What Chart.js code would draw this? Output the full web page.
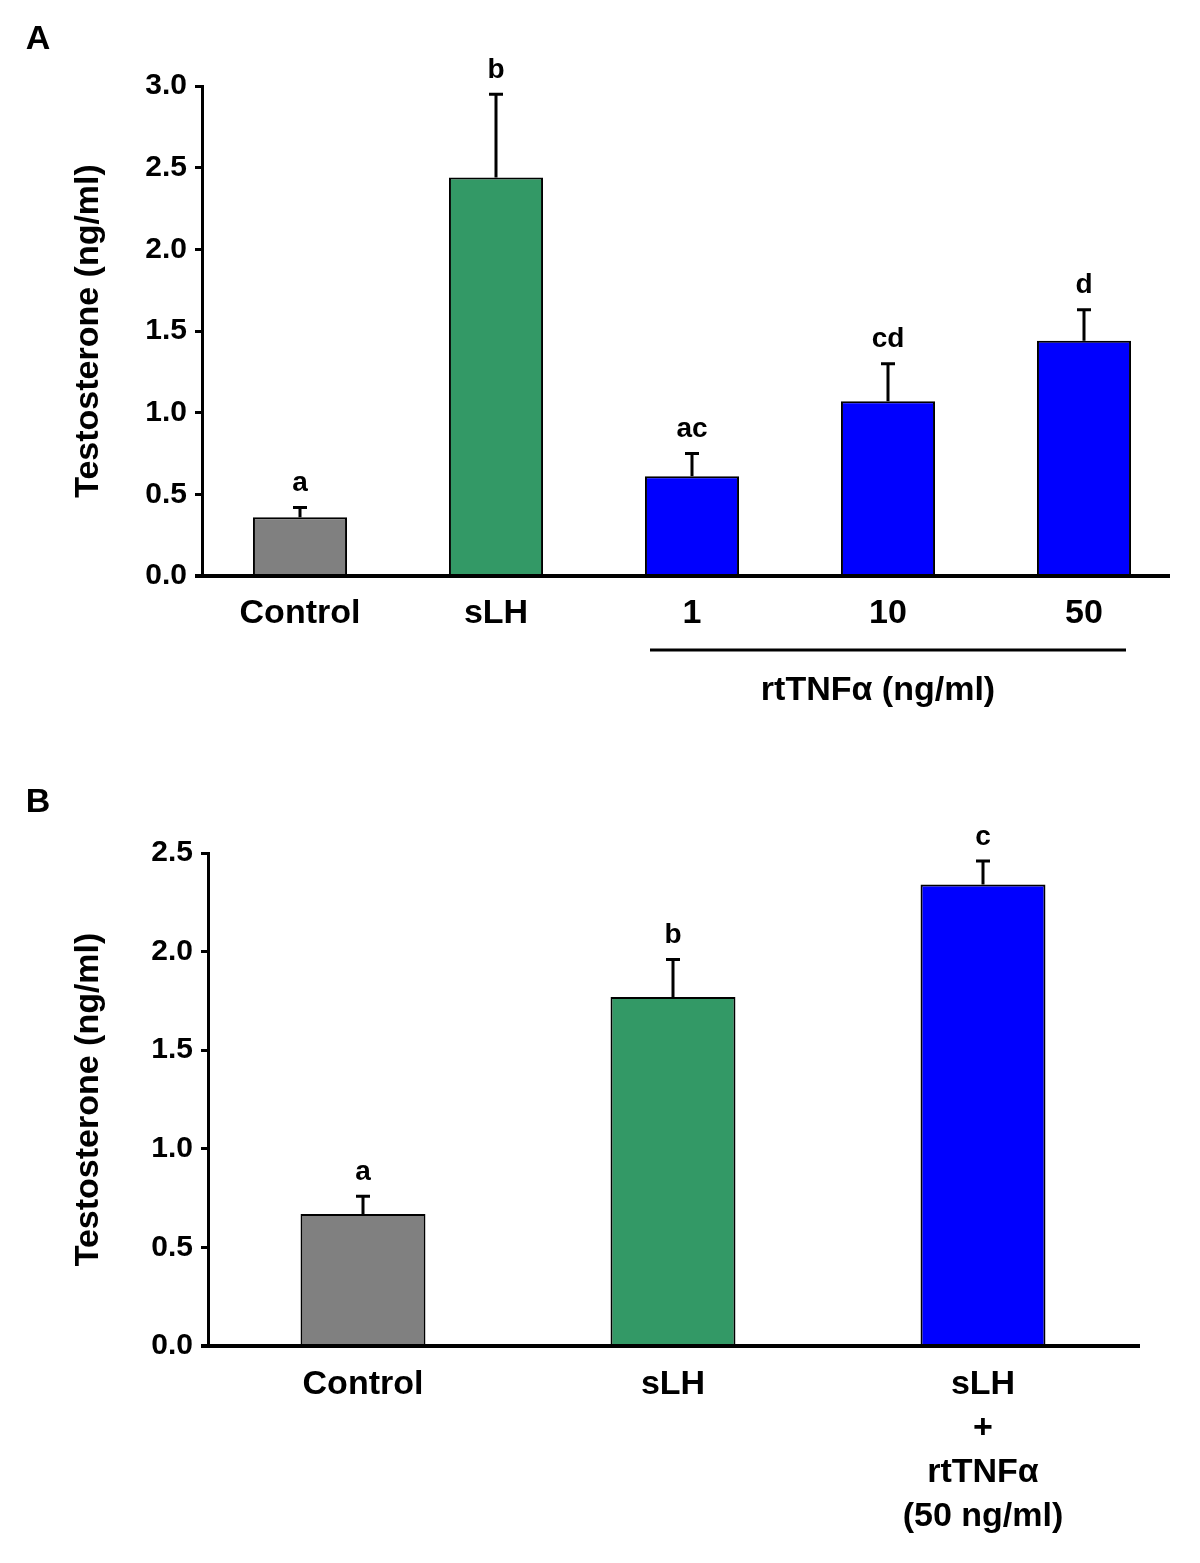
<!DOCTYPE html>
<html>
<head>
<meta charset="utf-8">
<script src="https://cdn.jsdelivr.net/npm/chart.js@4.4.1/dist/chart.umd.min.js"></script>
<style>
  body { margin: 0; background: #fff; width: 1200px; height: 1563px; position: relative; overflow: hidden; }
  .wrap { position: absolute; left: 0; width: 1200px; }
</style>
</head>
<body>
<div class="wrap" style="top:0;height:780px"><canvas id="chartA"></canvas></div>
<div class="wrap" style="top:780px;height:783px"><canvas id="chartB"></canvas></div>
<script>
// panel A
var labelsA = ['Control', 'sLH', '1', '10', '50'];
var meansA = [0.36, 2.44, 0.61, 1.07, 1.44];
var semA = [0.06, 0.51, 0.14, 0.23, 0.19];
var lettersA = ['a', 'b', 'ac', 'cd', 'd'];
var colorsA = ['#808080', '#339966', '#0000ff', '#0000ff', '#0000ff'];
var ticksA = [0, 0.5, 1.0, 1.5, 2.0, 2.5, 3.0];

// panel B
var labelsB = ['Control', 'sLH', ['sLH', '+', 'rtTNFα', '(50 ng/ml)']];
var meansB = [0.67, 1.77, 2.34];
var semB = [0.09, 0.19, 0.12];
var lettersB = ['a', 'b', 'c'];
var colorsB = ['#808080', '#339966', '#0000ff'];
var ticksB = [0, 0.5, 1.0, 1.5, 2.0, 2.5];

var FONT = '"Liberation Sans", Arial, Helvetica, sans-serif';
Chart.defaults.font.family = FONT;
Chart.defaults.font.weight = 'bold';
Chart.defaults.color = '#000';

// x axis line, error bars, letters, panel label, group line
var extras = {
  id: 'extras',
  afterDatasetsDraw: function(chart, args, opts) {
    var ctx = chart.ctx;
    var x = chart.scales.x, y = chart.scales.y;
    var area = chart.chartArea;
    ctx.save();
    ctx.strokeStyle = '#000';
    ctx.fillStyle = '#000';

    ctx.lineWidth = 4;
    ctx.beginPath();
    ctx.moveTo(area.left - 7, area.bottom);
    ctx.lineTo(area.right + opts.axisOver, area.bottom);
    ctx.stroke();

    ctx.lineWidth = 3;
    ctx.textAlign = 'center';
    ctx.textBaseline = 'bottom';
    ctx.font = 'bold 28px ' + FONT;
    opts.means.forEach(function(m, i) {
      var px = x.getPixelForValue(i);
      var base = y.getPixelForValue(m);
      var top = y.getPixelForValue(m + opts.sem[i]);
      ctx.beginPath();
      ctx.moveTo(px, base);
      ctx.lineTo(px, top);
      ctx.moveTo(px - 7, top);
      ctx.lineTo(px + 7, top);
      ctx.stroke();
      ctx.fillText(opts.letters[i], px, top - 10);
    });

    ctx.font = 'bold 34px ' + FONT;
    ctx.textBaseline = 'middle';
    ctx.fillText(opts.panel, 38, opts.panelY);

    if (opts.group) {
      var g = opts.group;
      var x1 = x.getPixelForValue(g.from) - 42;
      var x2 = x.getPixelForValue(g.to) + 42;
      var ly = area.bottom + 74;
      ctx.beginPath();
      ctx.moveTo(x1, ly);
      ctx.lineTo(x2, ly);
      ctx.stroke();
      ctx.fillText(g.text, (x1 + x2) / 2 - 10, ly + 41);
    }
    ctx.restore();
  }
};

function makeChart(id, labels, means, colors, ticks, barPct, pad, yWidth, xHeight, xPad, extraOpts) {
  return new Chart(document.getElementById(id), {
    type: 'bar',
    data: {
      labels: labels,
      datasets: [{
        data: means,
        backgroundColor: colors,
        borderColor: '#000',
        borderWidth: 2,
        borderSkipped: 'bottom',
        barPercentage: barPct,
        categoryPercentage: 1
      }]
    },
    options: {
      responsive: true,
      maintainAspectRatio: false,
      animation: false,
      layout: { padding: pad },
      plugins: {
        legend: { display: false },
        tooltip: { enabled: false },
        extras: extraOpts
      },
      scales: {
        x: {
          grid: { display: false },
          border: { display: false },
          ticks: { font: { size: 34, weight: 'bold', lineHeight: 1.29 }, padding: xPad, maxRotation: 0, autoSkip: false },
          afterFit: function(s) { s.height = xHeight; }
        },
        y: {
          min: ticks[0],
          max: ticks[ticks.length - 1],
          afterBuildTicks: function(s) { s.ticks = ticks.map(function(v) { return { value: v }; }); },
          grid: { drawOnChartArea: false, drawTicks: true, tickLength: 7, color: '#000', lineWidth: 3 },
          border: { display: true, color: '#000', width: 3 },
          ticks: {
            font: { size: 30, weight: 'bold' },
            padding: 8,
            callback: function(v) { return Number(v).toFixed(1); }
          },
          title: {
            display: true,
            text: 'Testosterone (ng/ml)',
            font: { size: 34, weight: 'bold' },
            padding: { top: 68, bottom: 0 }
          },
          afterFit: function(s) { s.width = yWidth; }
        }
      }
    },
    plugins: [extras]
  });
}

makeChart('chartA', labelsA, meansA, colorsA, ticksA, 0.48,
  { top: 86, right: 18, left: 0, bottom: 0 }, 202, 204, 8,
  { means: meansA, sem: semA, letters: lettersA, panel: 'A', panelY: 40, axisOver: -12,
    group: { from: 2, to: 4, text: 'rtTNFα (ng/ml)' } });

makeChart('chartB', labelsB, meansB, colorsB, ticksB, 0.403,
  { top: 73, right: 62, left: 0, bottom: 0 }, 208, 217, 9,
  { means: meansB, sem: semB, letters: lettersB, panel: 'B', panelY: 23, axisOver: 2 });
</script>
</body>
</html>
